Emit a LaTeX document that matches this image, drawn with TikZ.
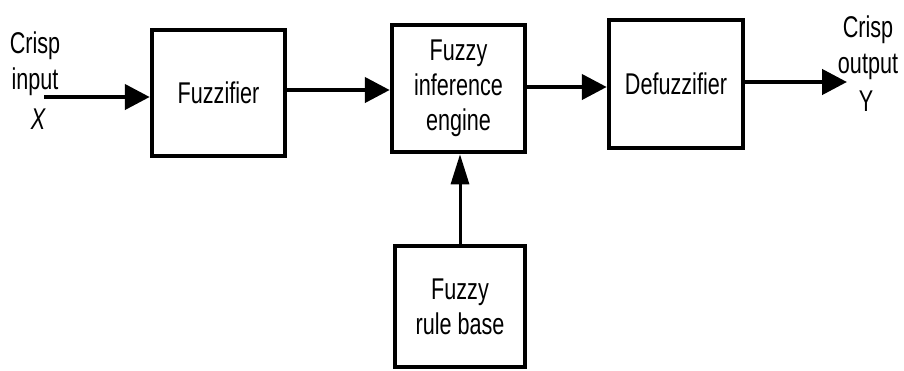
\documentclass[tikz,border=0pt]{standalone}
\usepackage{fontspec}
\setmainfont[FakeStretch=0.72]{Liberation Sans}
\usetikzlibrary{arrows.meta}
\begin{document}
\begin{tikzpicture}[x=1pt,y=-1pt,
  box/.style={draw=black, line width=4.5pt, fill=white, align=center, inner sep=0pt,
    font=\fontsize{30}{35}\selectfont},
  lbl/.style={align=center, inner sep=0pt, font=\fontsize{30}{36}\selectfont},
  arr/.style={line width=4.5pt, -{Triangle[length=25pt,width=25pt]}},
  varr/.style={line width=3pt, -{Triangle[length=30pt,width=18pt]}}]
\useasboundingbox (0,0) rectangle (904,370);
\node[box, minimum width=133pt, minimum height=126pt] (fuzz) at (218.5,93) {Fuzzifier};
\node[box, minimum width=133pt, minimum height=127pt] (inf) at (458.5,88.5) {Fuzzy\\inference\\engine};
\node[box, minimum width=134pt, minimum height=128pt] (def) at (676,84) {Defuzzifier};
\node[box, minimum width=130pt, minimum height=121pt] (rule) at (460,306.5) {Fuzzy\\rule base};
\coordinate (in) at (44,97);
\coordinate (out) at (847,82);
\node[lbl] (inlbl) at (35,64) {Crisp\\input};
\node[lbl] (xlbl) at (38,119) {\itshape X};
\node[lbl] (outlbl) at (868,48) {Crisp\\output};
\node[lbl] (ylbl) at (866,101) {Y};
\draw[arr] (in) -- (fuzz.west |- in);
\draw[arr] (fuzz.east |- 0,90) -- (inf.west |- 0,90);
\draw[arr] (inf.east |- 0,87) -- (def.west |- 0,87);
\draw[arr] (def.east |- out) -- (out);
\draw[varr] (rule.north) -- (rule.north |- inf.south);
\end{tikzpicture}
\end{document}
